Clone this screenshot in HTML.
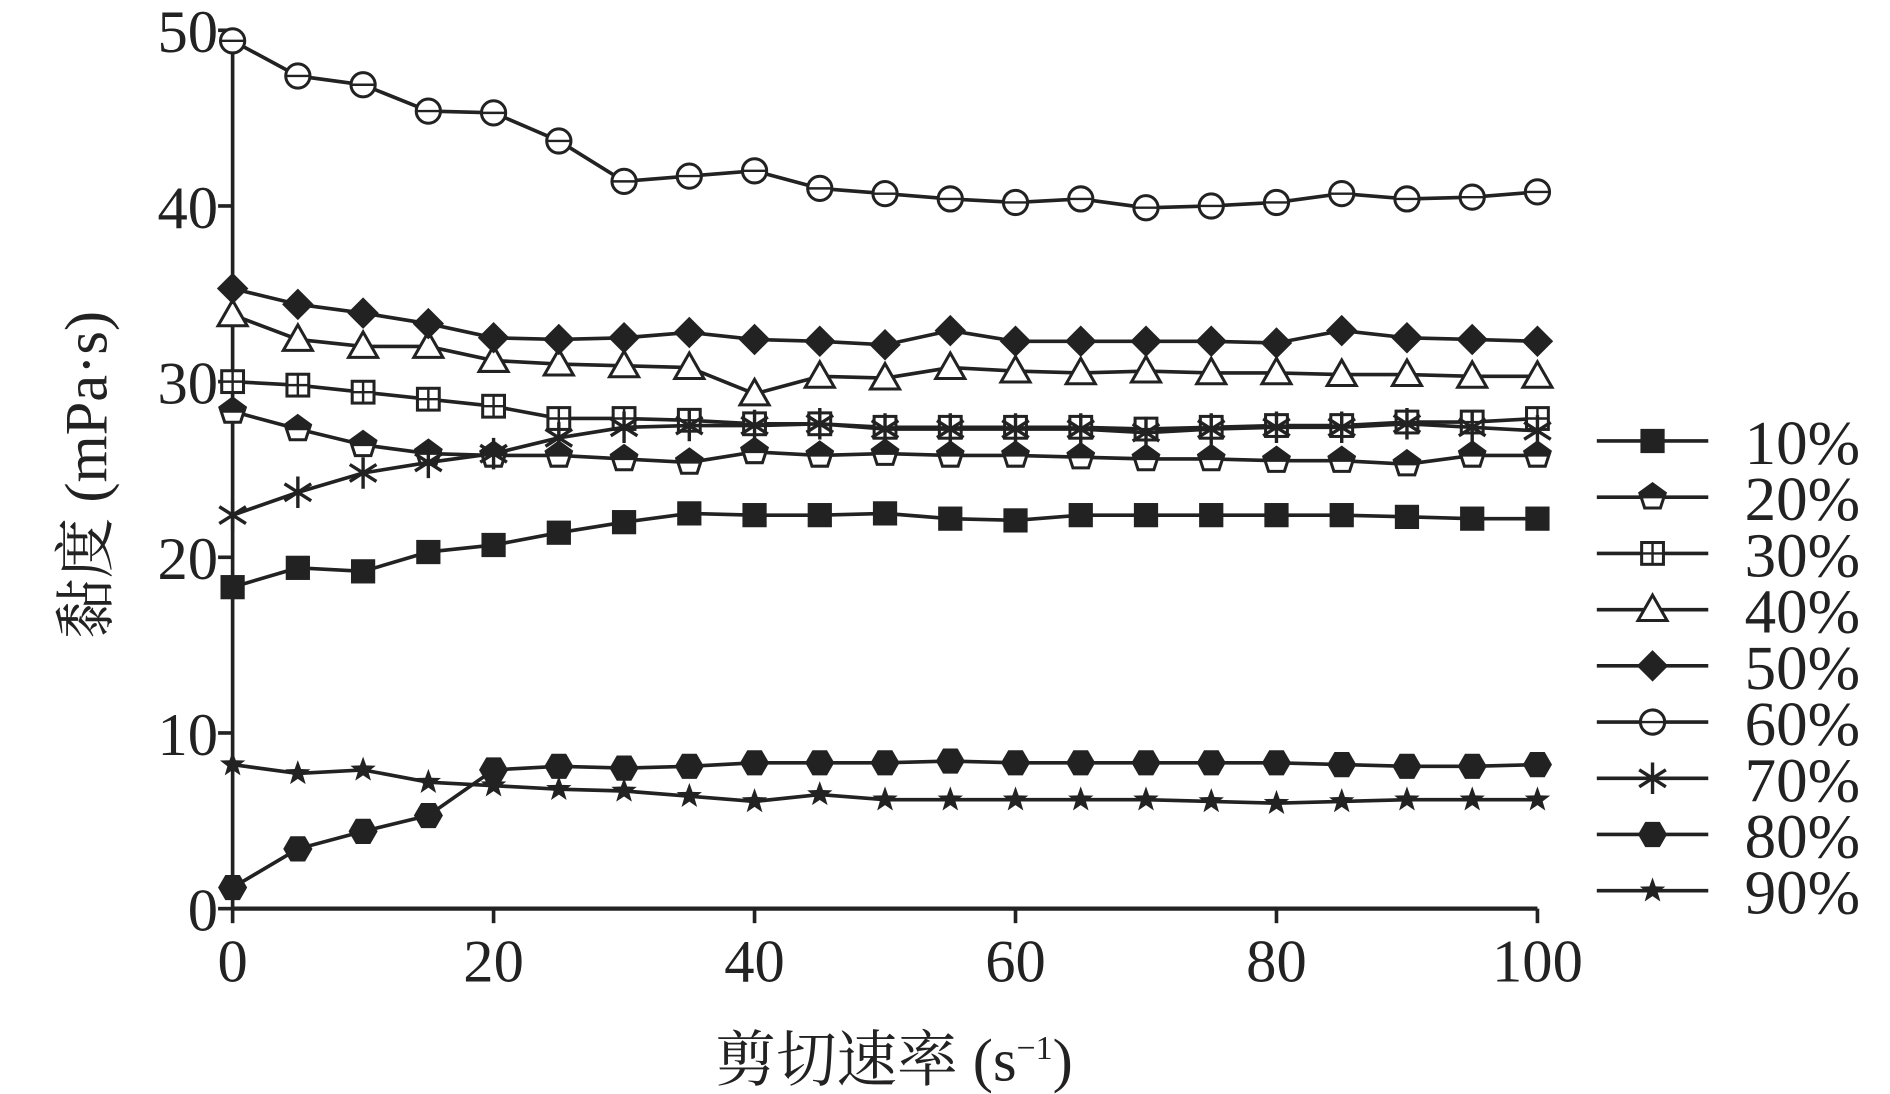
<!DOCTYPE html>
<html><head><meta charset="utf-8"><style>
html,body{margin:0;padding:0;background:#fff;}
svg{display:block;}
text{font-family:"Liberation Serif","Times New Roman",serif;fill:#222;}
text.cjk{font-family:"Liberation Serif","Noto Serif CJK SC",serif;}
</style></head><body>
<svg id="chart" width="1890" height="1094" viewBox="0 0 1560 903" preserveAspectRatio="none" xmlns="http://www.w3.org/2000/svg"></svg>
<script>
const xValues=[0,5,10,15,20,25,30,35,40,45,50,55,60,65,70,75,80,85,90,95,100];
const seriesNames=["10%","20%","30%","40%","50%","60%","70%","80%","90%"];
const markers=["square","pentagon","squareplus","triangle","diamond","circle","asterisk","hexagon","star"];
const s10=[18.3,19.4,19.2,20.3,20.7,21.4,22.0,22.5,22.4,22.4,22.5,22.2,22.1,22.4,22.4,22.4,22.4,22.4,22.3,22.2,22.2];
const s20=[28.3,27.3,26.4,25.9,25.8,25.8,25.6,25.4,26.0,25.8,25.9,25.8,25.8,25.7,25.6,25.6,25.5,25.5,25.3,25.8,25.8];
const s30=[30.0,29.8,29.4,29.0,28.6,27.9,27.9,27.8,27.6,27.6,27.4,27.4,27.4,27.4,27.3,27.4,27.5,27.5,27.7,27.7,27.9];
const s40=[33.8,32.4,32.0,32.0,31.2,31.0,30.9,30.8,29.3,30.3,30.2,30.8,30.6,30.5,30.6,30.5,30.5,30.4,30.4,30.3,30.3];
const s50=[35.3,34.4,33.9,33.3,32.5,32.4,32.5,32.8,32.4,32.3,32.1,32.9,32.3,32.3,32.3,32.3,32.2,32.9,32.5,32.4,32.3];
const s60=[49.4,47.4,46.9,45.4,45.3,43.7,41.4,41.7,42.0,41.0,40.7,40.4,40.2,40.4,39.9,40.0,40.2,40.7,40.4,40.5,40.8];
const s70=[22.4,23.7,24.8,25.4,25.9,26.8,27.4,27.5,27.5,27.6,27.3,27.3,27.3,27.3,27.1,27.3,27.4,27.4,27.6,27.4,27.2];
const s80=[1.2,3.4,4.4,5.3,7.9,8.1,8.0,8.1,8.3,8.3,8.3,8.4,8.3,8.3,8.3,8.3,8.3,8.2,8.1,8.1,8.2];
const s90=[8.2,7.7,7.9,7.2,7.0,6.8,6.7,6.4,6.1,6.5,6.2,6.2,6.2,6.2,6.2,6.1,6.0,6.1,6.2,6.2,6.2];
const allSeries=[s10,s20,s30,s40,s50,s60,s70,s80,s90];
const xTicks=[0,20,40,60,80,100];
const yTicks=[0,10,20,30,40,50];

const NS="http://www.w3.org/2000/svg";
const svg=document.getElementById('chart');
const X0=192,X1=1269,Y0=750,Y1=25;
const xs=v=>X0+(X1-X0)*v/100;
const ys=v=>Y0-(Y0-Y1)*v/50;
function mk(tag,attrs,parent){const e=document.createElementNS(NS,tag);for(const k in attrs)e.setAttribute(k,attrs[k]);(parent||svg).appendChild(e);return e;}
const C="#222";

let ax=mk('line',{x1:X0,y1:Y0,x2:X1,y2:Y0,stroke:C,'stroke-width':3.5});


let ay=mk('line',{x1:X0,y1:Y0,x2:X0,y2:Y1,stroke:C,'stroke-width':3});


xTicks.forEach(t=>{
  const tl=mk('line',{x1:xs(t),y1:Y0,x2:xs(t),y2:Y0+12,stroke:C,'stroke-width':3});
  
  
  const tx=mk('text',{x:xs(t),y:Y0+60,'font-size':50,'text-anchor':'middle'});
  tx.textContent=t;
  
  
});
yTicks.forEach(t=>{
  const tl=mk('line',{x1:X0-12,y1:ys(t),x2:X0,y2:ys(t),stroke:C,'stroke-width':3});
  
  
  const tx=mk('text',{x:X0-12,y:ys(t)+18,'font-size':50,'text-anchor':'end'});
  tx.textContent=t;
  
  
});
const xt=mk('text',{x:738,y:892,'font-size':50,'text-anchor':'middle','class':'cjk'});
xt.innerHTML='剪切速率 (s<tspan dy="-18" font-size="28">−1</tspan><tspan dy="18">)</tspan>';


const yt=mk('text',{x:0,y:0,'font-size':50,'text-anchor':'middle','class':'cjk',transform:'translate(88,392) rotate(-90)'});
yt.textContent='黏度 (mPa·s)';



function poly(cx,cy,n,r,rot){let p=[];for(let i=0;i<n;i++){const a=rot+i*2*Math.PI/n;p.push((cx+r*Math.cos(a)).toFixed(1)+','+(cy+r*Math.sin(a)).toFixed(1));}return p.join(' ');}
function marker(type,cx,cy,g){
  const sw=2.5;
  switch(type){
    case 'square': mk('rect',{x:cx-10,y:cy-10,width:20,height:20,fill:C},g);break;
    case 'pentagon': mk('polygon',{points:poly(cx,cy,5,11,-Math.PI/2),fill:'#fff',stroke:C,'stroke-width':sw},g);
      mk('path',{d:`M${cx-10},${cy-3} L${cx},${cy-11} L${cx+10},${cy-3} L${cx+8},${cy+1} L${cx-8},${cy+1}Z`,fill:C},g);break;
    case 'squareplus': mk('rect',{x:cx-9,y:cy-9,width:18,height:18,fill:'#fff',stroke:C,'stroke-width':sw},g);
      mk('path',{d:`M${cx-9},${cy}H${cx+9}M${cx},${cy-9}V${cy+9}`,stroke:C,'stroke-width':2},g);break;
    case 'triangle': mk('polygon',{points:`${cx},${cy-12} ${cx+12},${cy+9} ${cx-12},${cy+9}`,fill:'#fff',stroke:C,'stroke-width':sw},g);break;
    case 'diamond': mk('polygon',{points:`${cx},${cy-13} ${cx+13},${cy} ${cx},${cy+13} ${cx-13},${cy}`,fill:C},g);break;
    case 'circle': mk('circle',{cx:cx,cy:cy,r:10,fill:'#fff',stroke:C,'stroke-width':sw},g);
      mk('line',{x1:cx-10,y1:cy,x2:cx+10,y2:cy,stroke:C,'stroke-width':2},g);break;
    case 'asterisk': mk('path',{d:`M${cx},${cy-13}V${cy+13}M${cx-11},${cy-7}L${cx+11},${cy+7}M${cx+11},${cy-7}L${cx-11},${cy+7}`,stroke:C,'stroke-width':2.8},g);break;
    case 'hexagon': mk('polygon',{points:poly(cx,cy,6,12,0),fill:C},g);break;
    case 'star': {let p=[];for(let i=0;i<10;i++){const r=i%2?4.5:11;const a=-Math.PI/2+i*Math.PI/5;p.push((cx+r*Math.cos(a)).toFixed(1)+','+(cy+r*Math.sin(a)).toFixed(1));}
      mk('polygon',{points:p.join(' '),fill:C},g);break;}
  }
}
allSeries.forEach((vals,si)=>{
  const g=mk('g',{});
  
  
  const pts=vals.map((v,i)=>xs(xValues[i]).toFixed(1)+','+ys(v).toFixed(1)).join(' ');
  mk('polyline',{points:pts,fill:'none',stroke:C,'stroke-width':3},g);
  vals.forEach((v,i)=>marker(markers[si],xs(xValues[i]),ys(v),g));
  const ly=364+si*46.4;
  const lg=mk('g',{});
  
  
  mk('line',{x1:1318,y1:ly,x2:1410,y2:ly,stroke:C,'stroke-width':3},lg);
  marker(markers[si],1364,ly,lg);
  const lt=mk('text',{x:1440,y:ly+19,'font-size':52},lg);
  lt.textContent=seriesNames[si];
});
</script>
</body></html>
